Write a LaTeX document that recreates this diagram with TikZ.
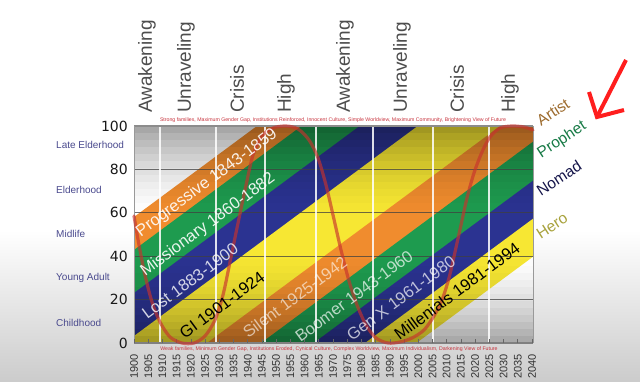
\documentclass[tikz,border=0pt]{standalone}
\usepackage{fontspec}
\setmainfont{Liberation Sans}
\newfontfamily\dejavu{DejaVu Sans}
\definecolor{bOrange}{RGB}{240,140,46}
\definecolor{bGreen}{RGB}{30,155,79}
\definecolor{bBlue}{RGB}{43,51,145}
\definecolor{bYellow}{RGB}{247,231,51}
\definecolor{turnGray}{RGB}{77,77,77}
\definecolor{stageBlue}{RGB}{74,74,142}
\definecolor{capRed}{RGB}{200,50,60}
\definecolor{curveRed}{RGB}{200,50,45}
\definecolor{artistC}{RGB}{156,106,44}
\definecolor{prophetC}{RGB}{23,122,70}
\definecolor{nomadC}{RGB}{21,21,74}
\definecolor{heroC}{RGB}{168,162,60}
\definecolor{arrowRed}{RGB}{255,30,30}
\begin{document}
\begin{tikzpicture}[x=1pt,y=-1pt,
  turn/.style={rotate=90,anchor=west,inner sep=0pt,text=turnGray,font=\fontsize{19}{22}\selectfont},
  yr/.style={rotate=90,anchor=east,inner sep=0pt,text=black!80,font=\fontsize{11}{13}\selectfont},
  ynum/.style={anchor=east,inner sep=0pt,text=black!90,font=\dejavu\fontsize{14}{16}\selectfont},
  stage/.style={anchor=west,inner sep=0pt,text=stageBlue,font=\fontsize{10}{12}\selectfont},
  capt/.style={inner sep=0pt,text=capRed,font=\fontsize{5.2}{6}\selectfont},
  band/.style={rotate=36.5,inner sep=0pt,font=\fontsize{16.5}{19}\selectfont},
  arch/.style={rotate=33,inner sep=0pt,font=\fontsize{15.5}{18}\selectfont},
  redarrow/.style={draw=arrowRed,line width=4pt,line join=miter}]
\useasboundingbox (0,0) rectangle (640,381);
\fill[white] (0,0) rectangle (640,381);
\shade[top color=white,bottom color=black!20] (0,230) rectangle (640,381);
% plot area
\fill[white] (134,126) rectangle (533,343);
\begin{scope}
  \clip (134,126) rectangle (533,343);
  \foreach \a/\b/\c in {217/251/bOrange,250/294/bGreen,293/337/bBlue,336/398/bYellow,397/438/bOrange,437/477/bGreen,476/515/bBlue,514/552/bYellow}{
    \fill[\c] (134,\a) -- (533,{\a-295.3}) -- (533,{\b-295.3}) -- (134,\b) -- cycle;
  }
  \foreach \i in {0,...,30}{
    \pgfmathsetmacro\ya{126+7*\i}
    \pgfmathsetmacro\d{min(1,max(0,(abs(\ya+3.5-235)-22)/86))}
    \pgfmathsetmacro\op{0.36*\d*(0.4+0.6*\d)}
    \fill[black,opacity=\op] (134,\ya) rectangle (533,{\ya+7});
  }
\end{scope}
% horizontal grid lines
\foreach \v in {20,40,60,80}{
  \draw[black!75,line width=0.8pt,opacity=0.75] (134,{343-2.17*\v}) -- (533,{343-2.17*\v});
}
% turning lines
\foreach \yy in {1909,1929,1946,1964,1984,2005,2025}{
  \draw[white,line width=2pt,opacity=0.85] ({134+2.843*(\yy-1900)},126) -- ({134+2.843*(\yy-1900)},343);
}
% frame
\draw[black!45,line width=1.2pt] (134,126) -- (533,126);
\draw[black!50,line width=1.2pt] (134,343) -- (533,343);
\draw[black!40,line width=0.8pt] (134,126) -- (134,343);
\draw[black!40,line width=0.8pt] (533,126) -- (533,343);
\foreach \k in {0,...,28}{
  \draw[black!60,line width=0.6pt] ({134+14.214*\k},343) -- ({134+14.214*\k},339);
}
% cycle curve
\draw[curveRed,opacity=0.65,line width=3.2pt,line cap=round] plot[smooth,tension=0.5] coordinates {
 (134,216) (139,245) (145,275) (152,302) (160,322) (170,337) (182,343) (194,343) (205,336) (215,320) (223,295) (230,262) (237,228) (245,190) (253,155) (262,136) (273,128) (286,126) (298,129) (309,140) (318,158) (326,185) (333,215) (341,250) (349,281) (357,305) (366,325) (376,338) (388,343) (400,342) (412,338) (424,330) (434,316) (442,300) (449,278) (455,252) (461,225) (467,198) (474,173) (482,152) (490,137) (500,128) (512,126) (524,127) (533,130)};
% band labels
\node[band,text=white,opacity=0.9] (progressive) at (207,183) {Progressive 1843-1859};
\node[band,text=white,opacity=0.9] (missionary) at (208,225) {Missionary 1860-1882};
\node[band,text=white,opacity=0.8] (lost) at (190,281) {Lost 1883-1900};
\node[band,text=black] (gi) at (222,305) {GI 1901-1924};
\node[band,text=white,opacity=0.6] (silent) at (295,297) {Silent 1925-1942};
\node[band,text=white,opacity=0.7] (boomer) at (354,296) {Boomer 1943-1960};
\node[band,text=white,opacity=0.7] (genx) at (401,298) {Gen X 1961-1980};
\node[band,text=black] (millenials) at (457,291) {Millenials 1981-1994};
% captions
\node[capt] (capTop) at (333,120) {Strong families, Maximum Gender Gap, Institutions Reinforced, Innocent Culture, Simple Worldview, Maximum Community, Brightening View of Future};
\node[capt] (capBot) at (329,349) {Weak families, Minimum Gender Gap, Institutions Eroded, Cynical Culture, Complex Worldview, Maximum Individualism, Darkening View of Future};
% turnings
\node[turn] (t1) at (147,113) {Awakening};
\node[turn] (t2) at (186,113) {Unraveling};
\node[turn] (t3) at (237,113) {Crisis};
\node[turn] (t4) at (286,113) {High};
\node[turn] (t5) at (345,113) {Awakening};
\node[turn] (t6) at (402,113) {Unraveling};
\node[turn] (t7) at (457,113) {Crisis};
\node[turn] (t8) at (510,113) {High};
% y axis
\foreach \v in {0,20,40,60,80,100}{
  \node[ynum] (y\v) at (128,{343-2.17*\v}) {\v};
}
\node[stage] (s1) at (56,145) {Late Elderhood};
\node[stage] (s2) at (56,190) {Elderhood};
\node[stage] (s3) at (56,234) {Midlife};
\node[stage] (s4) at (56,278) {Young Adult};
\node[stage] (s5) at (56,323) {Childhood};
% years
\foreach \k in {0,...,28}{
  \pgfmathtruncatemacro\yv{1900+5*\k}
  \node[yr] (yr\k) at ({134+14.214*\k},354) {\yv};
}
% archetypes
\node[arch,text=artistC] (artist) at (553,112) {Artist};
\node[arch,text=prophetC] (prophet) at (562,140) {Prophet};
\node[arch,text=nomadC] (nomad) at (559,178) {Nomad};
\node[arch,text=heroC] (hero) at (552,226) {Hero};
% arrow
\coordinate (arrTail) at (626,60);
\coordinate (arrTip) at (597,117);
\coordinate (arrL) at (589,92);
\coordinate (arrR) at (624,110);
\draw[redarrow] (arrTail) -- (arrTip);
\draw[redarrow] (arrL) -- (arrTip) -- (arrR);
\end{tikzpicture}
\end{document}
